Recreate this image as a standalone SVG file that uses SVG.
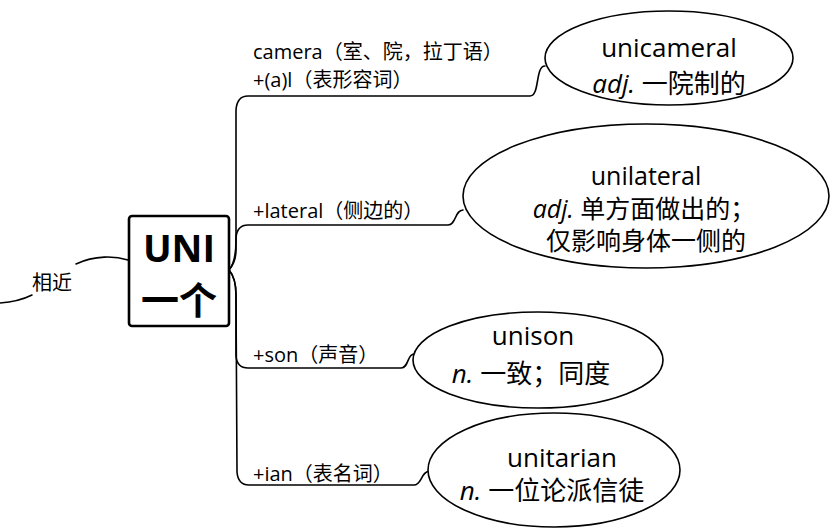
<svg xmlns="http://www.w3.org/2000/svg" width="832" height="528" viewBox="0 0 832 528">
<style>
.bg{fill:#ffffff}
.edge{fill:none;stroke:#000;stroke-width:1.6;stroke-linecap:round;stroke-linejoin:round}
.ell{fill:#fff;stroke:#000;stroke-width:1.6}
.box{fill:#fff;stroke:#000;stroke-width:2.6}
text{font-family:"Open Sans","Noto Sans CJK SC",sans-serif;fill:#000}
.lbl{font-size:20px}
.node{font-size:26px;text-anchor:middle}
.node2{font-size:25px;text-anchor:middle}
.main{font-size:38px;font-weight:bold;text-anchor:middle}
.it{font-style:italic}
</style>
<rect class="bg" x="0" y="0" width="832" height="528"/>
<g id="connectors">
<path class="edge" d="M128,260 C115,256 95,255 76,264"/>
<path class="edge" d="M0,303 C14,302 24,299 32,295"/>
<path class="edge" d="M229,270 Q236,262 236,240 L236,110 Q237,96 248,96 L530,96 C540,96 535,66 545,66"/>
<path class="edge" d="M229,270 Q236,262 236,250 L236,238 Q237,225 248,225 L448,225 C456,225 455,210 463,210"/>
<path class="edge" d="M229,270 Q236,278 236,295 L236,356 Q237,368 248,368 L401,368 C409,368 407,354 414,354"/>
<path class="edge" d="M229,270 Q236,278 236,295 L237,472 Q238,485 249,485 L414,485 C422,485 421,471 430,471"/>
</g>
<g id="label-xiangjin"><text class="lbl" x="32" y="290">相近</text></g>
<g id="node-uni">
<rect class="box" x="129" y="216" width="100" height="110" rx="3"/>
<text class="main" x="179" y="262">UNI</text>
<text class="main" x="179" y="314">一个</text>
</g>
<g id="label-camera">
<text class="lbl" x="253" y="59">camera（室、院，拉丁语）</text>
<text class="lbl" x="253" y="87">+(a)l（表形容词）</text>
</g>
<g id="label-lateral"><text class="lbl" x="253" y="218">+lateral（侧边的）</text></g>
<g id="label-son"><text class="lbl" x="253" y="362">+son（声音）</text></g>
<g id="label-ian"><text class="lbl" x="253" y="481">+ian（表名词）</text></g>
<g id="node-unicameral">
<ellipse class="ell" cx="669" cy="58" rx="124" ry="47"/>
<text class="node" x="669" y="57">unicameral</text>
<text class="node" x="669" y="93"><tspan class="it">adj.</tspan> 一院制的</text>
</g>
<g id="node-unilateral">
<ellipse class="ell" cx="646" cy="196" rx="183" ry="72"/>
<text class="node2" x="646" y="185">unilateral</text>
<text class="node2" x="644" y="218"><tspan class="it">adj.</tspan> 单方面做出的；</text>
<text class="node2" x="646" y="250">仅影响身体一侧的</text>
</g>
<g id="node-unison">
<ellipse class="ell" cx="538" cy="360" rx="125" ry="48"/>
<text class="node" x="533" y="345">unison</text>
<text class="node" x="531" y="383"><tspan class="it">n.</tspan> 一致；同度</text>
</g>
<g id="node-unitarian">
<ellipse class="ell" cx="554" cy="470" rx="126" ry="57"/>
<text class="node" x="562" y="467">unitarian</text>
<text class="node" x="552" y="500"><tspan class="it">n.</tspan> 一位论派信徒</text>
</g>
</svg>
